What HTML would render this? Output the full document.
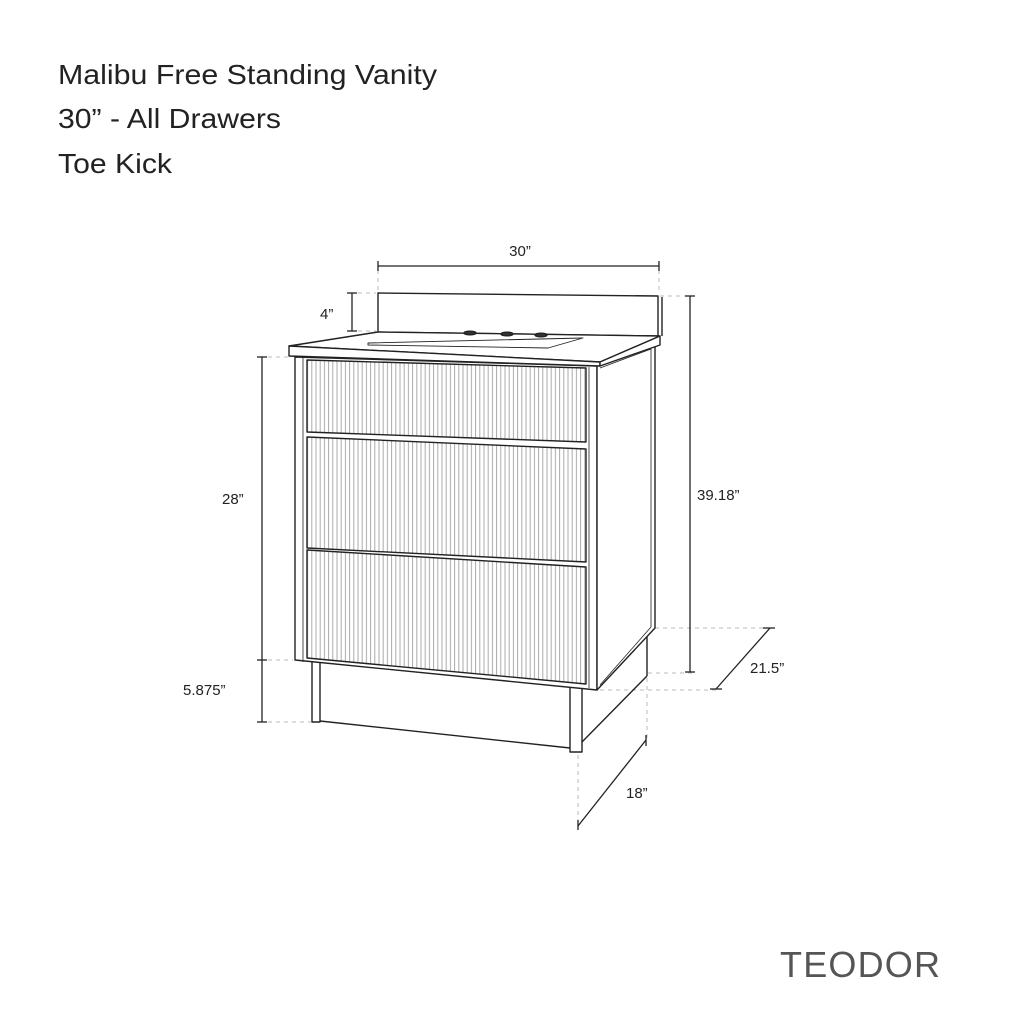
<!DOCTYPE html>
<html><head><meta charset="utf-8"><style>
html,body{margin:0;padding:0;background:#fff;}
svg{display:block}
.t{font-family:"Liberation Sans",sans-serif;fill:#222}
</style></head><body>
<svg width="1024" height="1024" viewBox="0 0 1024 1024" xmlns="http://www.w3.org/2000/svg">
<defs>
<pattern id="fl" width="4.2" height="10" patternUnits="userSpaceOnUse">
<rect width="4.2" height="10" fill="#fff"/>
<line x1="1" y1="0" x2="1" y2="10" stroke="#aaa" stroke-width="1"/>
</pattern>
</defs>
<text class="t" x="58" y="84" font-size="28" textLength="379" lengthAdjust="spacingAndGlyphs">Malibu Free Standing Vanity</text>
<text class="t" x="58" y="128" font-size="28" textLength="223" lengthAdjust="spacingAndGlyphs">30” - All Drawers</text>
<text class="t" x="58" y="173" font-size="28" textLength="114" lengthAdjust="spacingAndGlyphs">Toe Kick</text>

<g stroke="#bbb" stroke-width="1" stroke-dasharray="4,4" fill="none">
<line x1="378" y1="262" x2="378" y2="292"/>
<line x1="659" y1="262" x2="659" y2="294"/>
<line x1="358" y1="293" x2="376" y2="293"/>
<line x1="358" y1="331" x2="376" y2="331"/>
<line x1="660" y1="296" x2="690" y2="296"/>
<line x1="268" y1="357" x2="290" y2="357"/>
<line x1="268" y1="660" x2="293" y2="660"/>
<line x1="268" y1="722" x2="311" y2="722"/>
<line x1="655" y1="628" x2="775" y2="628"/>
<line x1="600" y1="690" x2="716" y2="690"/>
<line x1="648" y1="673" x2="696" y2="673"/>
<line x1="647" y1="678" x2="647" y2="740"/>
<line x1="578" y1="755" x2="578" y2="820"/>
</g>

<g stroke="#222" stroke-width="1.3" fill="none">
<line x1="378" y1="266" x2="659" y2="266"/><line x1="378" y1="261" x2="378" y2="271"/><line x1="659" y1="261" x2="659" y2="271"/>
<line x1="352" y1="293" x2="352" y2="331"/><line x1="347" y1="293" x2="357" y2="293"/><line x1="347" y1="331" x2="357" y2="331"/>
<line x1="262" y1="357" x2="262" y2="660"/><line x1="257" y1="357" x2="267" y2="357"/><line x1="257" y1="660" x2="267" y2="660"/>
<line x1="262" y1="660" x2="262" y2="722"/><line x1="257" y1="722" x2="267" y2="722"/>
<line x1="690" y1="296" x2="690" y2="672"/><line x1="685" y1="296" x2="695" y2="296"/><line x1="685" y1="672" x2="695" y2="672"/>
<line x1="770" y1="628" x2="716" y2="689"/><line x1="763" y1="628" x2="775" y2="628"/><line x1="710" y1="689" x2="722" y2="689"/>
<line x1="646" y1="740" x2="578" y2="826"/><line x1="646" y1="735" x2="646" y2="746"/><line x1="578" y1="820" x2="578" y2="830"/>
</g>

<g stroke="#222" stroke-width="1.4" fill="#fff" stroke-linejoin="round">
<polygon points="378,293 658,296 658,336 378,332"/>
<line x1="662" y1="297" x2="662" y2="336"/>
<!-- toe kick -->
<line x1="320" y1="721" x2="570" y2="748"/>
<line x1="582" y1="742" x2="647" y2="676"/>
<line x1="647" y1="637" x2="647" y2="676"/>
<!-- legs -->
<rect x="312" y="660" width="8" height="62"/>
<rect x="570" y="684" width="12" height="68"/>
<!-- cabinet -->
<polygon points="295,357 597,366 597,690 295,660"/>
<polygon points="597,366 655,345 655,628 597,690"/>
<line x1="600" y1="368" x2="651" y2="349" stroke-width="0.8"/>
<line x1="651" y1="349" x2="651" y2="627" stroke-width="0.8"/>
<line x1="651" y1="627" x2="600" y2="685" stroke-width="0.8"/>
<line x1="303" y1="358" x2="303" y2="662" stroke-width="0.8"/>
<line x1="589" y1="367" x2="589" y2="688" stroke-width="0.8"/>
<polygon points="307,360 586,368 586,442 307,432" fill="url(#fl)"/>
<polygon points="307,437 586,449 586,562 307,548" fill="url(#fl)"/>
<polygon points="307,550 586,567 586,684 307,658" fill="url(#fl)"/>
<polygon points="289,346 378,332 660,336 600,362"/>
<polygon points="289,346 600,362 600,366 289,356"/>
<polygon points="600,362 660,336 660,345 600,366"/>
<polygon points="368,343 583,338 548,348 368,345" stroke-width="0.9"/>
<ellipse cx="470" cy="333" rx="6" ry="1.8" fill="#333"/>
<ellipse cx="507" cy="334" rx="6" ry="1.8" fill="#333"/>
<ellipse cx="541" cy="335" rx="6" ry="1.8" fill="#333"/>
</g>

<g class="t" font-size="15">
<text x="520" y="256" text-anchor="middle">30”</text>
<text x="320" y="319">4”</text>
<text x="222" y="504">28”</text>
<text x="183" y="695">5.875”</text>
<text x="697" y="500">39.18”</text>
<text x="750" y="673">21.5”</text>
<text x="626" y="798">18”</text>
</g>
<text x="780" y="977" font-family="Liberation Sans,sans-serif" font-size="36" font-weight="300" fill="#555" letter-spacing="2" textLength="162">TEODOR</text>
</svg>
</body></html>
